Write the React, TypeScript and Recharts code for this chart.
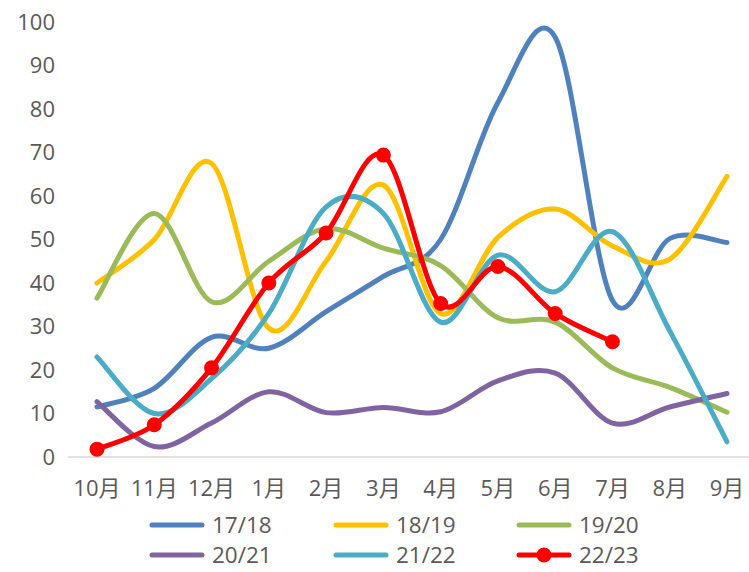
import { LineChart, Line, XAxis, YAxis, Legend } from 'recharts'

const months = ['10月', '11月', '12月', '1月', '2月', '3月', '4月', '5月', '6月', '7月', '8月', '9月']
const s1718 = [11.5, 15.8, 27.5, 25, 33.4, 41.5, 50, 81.5, 96.5, 36, 50.2, 49.3]
const s1819 = [40, 50, 67.5, 29.6, 45, 62.5, 33, 50.5, 57, 48.5, 45.5, 64.5]
const s1920 = [36.5, 56, 35.7, 45, 52.5, 48, 44, 32, 31, 20.5, 16, 10.3]
const s2021 = [12.7, 2.4, 7.8, 15, 10.2, 11.4, 10.4, 17.5, 19.3, 7.8, 11.5, 14.6]
const s2122 = [23, 10, 18, 33, 57.5, 56, 31, 46.4, 38, 51.8, 29, 3.5]
const s2223 = [1.8, 7.4, 20.5, 40, 51.5, 69.4, 35.3, 43.8, 33, 26.5, null, null]
const yTicks = [0, 10, 20, 30, 40, 50, 60, 70, 80, 90, 100]

const series = [
  { key: '17/18', color: '#4F81BD', values: s1718 },
  { key: '18/19', color: '#FFC000', values: s1819 },
  { key: '19/20', color: '#9BBB59', values: s1920 },
  { key: '20/21', color: '#8064A2', values: s2021 },
  { key: '21/22', color: '#4BACC6', values: s2122 },
  { key: '22/23', color: '#FF0000', values: s2223 },
]

const data = months.map((m, i) => {
  const row: Record<string, any> = { month: m }
  series.forEach((s) => { row[s.key] = s.values[i] })
  return row
})

const FONT = '"Open Sans", "Noto Sans CJK SC", sans-serif'
const TEXT = '#595959'

// Excel-like smoothing (Catmull-Rom through the points)
const excelSmooth = (context: any) => {
  let pts: number[][] = []
  return {
    areaStart() {},
    areaEnd() {},
    lineStart() { pts = [] },
    point(x: number, y: number) { pts.push([+x, +y]) },
    lineEnd() {
      if (!pts.length) return
      context.moveTo(pts[0][0], pts[0][1])
      for (let i = 0; i < pts.length - 1; i++) {
        const p0 = pts[i - 1] || pts[i]
        const p1 = pts[i]
        const p2 = pts[i + 1]
        const p3 = pts[i + 2] || p2
        context.bezierCurveTo(
          p1[0] + (p2[0] - p0[0]) / 6, p1[1] + (p2[1] - p0[1]) / 6,
          p2[0] - (p3[0] - p1[0]) / 6, p2[1] - (p3[1] - p1[1]) / 6,
          p2[0], p2[1],
        )
      }
    },
  }
}

const colX = [149, 333, 516]
const rowY = [13, 43]

function LegendBox() {
  return (
    <div style={{ position: 'relative', width: 749, height: 60, fontFamily: FONT }}>
      {series.map((s, i) => (
        <div
          key={s.key}
          style={{
            position: 'absolute',
            left: colX[i % 3],
            top: rowY[Math.floor(i / 3)] - 13,
            height: 26,
            display: 'flex',
            alignItems: 'center',
          }}
        >
          <svg width={56} height={20} style={{ display: 'block' }}>
            <line x1={3} y1={10} x2={53} y2={10} stroke={s.color} strokeWidth={5} strokeLinecap="round" />
            {s.key === '22/23' && <circle cx={28} cy={10} r={7.5} fill={s.color} />}
          </svg>
          <span
            style={{
              display: 'block',
              marginLeft: 7,
              fontSize: 22.5,
              lineHeight: '26px',
              height: 26,
              color: TEXT,
              whiteSpace: 'nowrap',
            }}
          >
            {s.key}
          </span>
        </div>
      ))}
    </div>
  )
}

export default function App() {
  return (
    <div style={{ position: 'absolute', left: 0, top: 0, width: 749, height: 572, overflow: 'hidden', background: '#fff' }}>
      <LineChart width={757} height={572} data={data} margin={{ top: 22, right: 1, left: 8, bottom: 15 }}>
        <XAxis
          dataKey="month"
          interval={0}
          height={40}
          padding={{ left: 29, right: 29 }}
          axisLine={{ stroke: '#D9D9D9', strokeWidth: 1.5 }}
          tickLine={false}
          tickSize={6}
          tickMargin={17}
          tick={{ fontSize: 22, fill: TEXT, fontFamily: FONT }}
        />
        <YAxis
          width={60}
          domain={[0, 100]}
          ticks={yTicks}
          interval={0}
          axisLine={false}
          tickLine={false}
          tickSize={6}
          tickMargin={7}
          tick={{ fontSize: 22, fill: TEXT, fontFamily: FONT }}
        />
        <Legend
          verticalAlign="bottom"
          content={() => <LegendBox />}
          wrapperStyle={{ left: 0, bottom: 0, width: 749, height: 60 }}
        />
        {series.map((s) => (
          <Line
            key={s.key}
            dataKey={s.key}
            type={excelSmooth as any}
            stroke={s.color}
            strokeWidth={5}
            strokeLinecap="round"
            strokeLinejoin="round"
            dot={s.key === '22/23' ? { r: 6.5, fill: s.color, stroke: s.color, strokeWidth: 2 } : false}
            activeDot={false}
            isAnimationActive={false}
          />
        ))}
      </LineChart>
    </div>
  )
}
